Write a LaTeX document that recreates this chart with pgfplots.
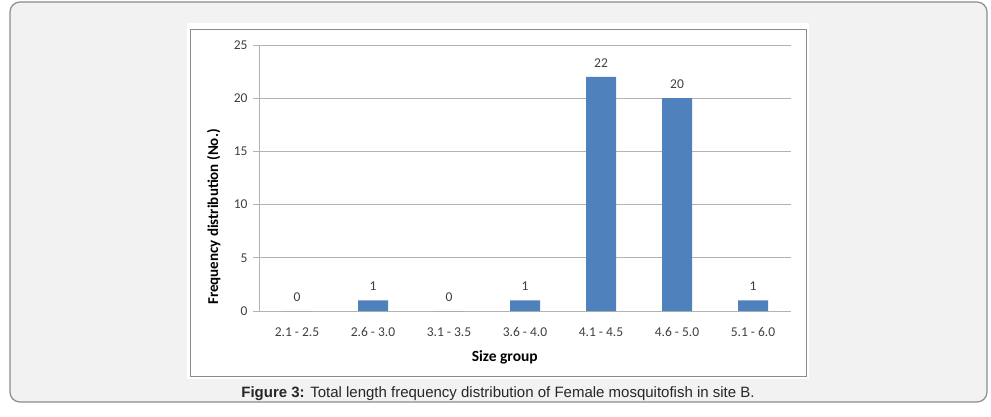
\documentclass[border=0pt]{standalone}
\usepackage{fontspec}
\setmainfont{Carlito}
\newfontfamily\capfont{Liberation Sans}
\usepackage{pgfplots}
\pgfplotsset{compat=1.18}

\definecolor{barblue}{HTML}{4F81BD}
\definecolor{panelbg}{HTML}{F2F2F2}
\definecolor{framegray}{HTML}{8C8C8C}
\definecolor{gridgray}{HTML}{B3B3B3}
\definecolor{txt}{HTML}{404040}

\begin{document}
\begin{tikzpicture}[x=1pt,y=1pt]
\useasboundingbox (0,0) rectangle (991,416);
\fill[white] (0,0) rectangle (991,416);
% outer panel
\filldraw[fill=panelbg, draw=framegray, line width=1.2pt, rounded corners=10pt] (10,14) rectangle (987,414);
\fill[white] (187,37) rectangle (809,393);
\draw[framegray, line width=1pt] (190,40) rectangle (806,386);

\begin{axis}[
  at={(259pt,105pt)}, anchor=south west,
  scale only axis, width=532pt, height=266pt,
  xmin=-0.5, xmax=6.5, ymin=0, ymax=25,
  axis x line*=bottom, axis y line*=left,
  axis line style={gridgray, line width=0.8pt, -},
  ymajorgrids, grid style={gridgray, line width=0.8pt},
  ytick={0,5,...,25},
  xtick=data,
  xticklabels={2.1 - 2.5, 2.6 - 3.0, 3.1 - 3.5, 3.6 - 4.0, 4.1 - 4.5, 4.6 - 5.0, 5.1 - 6.0},
  major tick length=6pt,
  tick align=outside,
  x tick style={draw=none},
  y tick style={gridgray, line width=0.8pt},
  ticklabel style={font=\fontsize{13.5}{15}\selectfont, text=txt},
  /pgf/number format/assume math mode=true,
  xticklabel style={yshift=-7pt},
  yticklabel style={xshift=-2pt},
  xlabel={\textbf{Size group}},
  xlabel style={at={(axis description cs:0.462,-0.173)}, anchor=center, font=\fontsize{15.5}{17}\selectfont},
  ylabel={\textbf{Frequency distribution (No.)}},
  ylabel style={at={(axis description cs:-0.085,0.353)}, anchor=center, font=\fontsize{15}{17}\selectfont},
  ybar, bar width=30pt,
  nodes near coords,
  nodes near coords style={anchor=center, yshift=14pt, font=\fontsize{13.5}{15}\selectfont, text=txt},
  every node near coord/.append style={/pgf/number format/assume math mode=true},
]
\addplot[fill=barblue, draw=none] coordinates {
  (0,0) (1,1) (2,0) (3,1) (4,22) (5,20) (6,1)
};
\end{axis}

\node[font=\capfont\fontsize{15}{17}\selectfont, text=black!85] at (498,22)
  {\textbf{Figure 3:} Total length frequency distribution of Female mosquitofish in site B.};
\end{tikzpicture}
\end{document}
